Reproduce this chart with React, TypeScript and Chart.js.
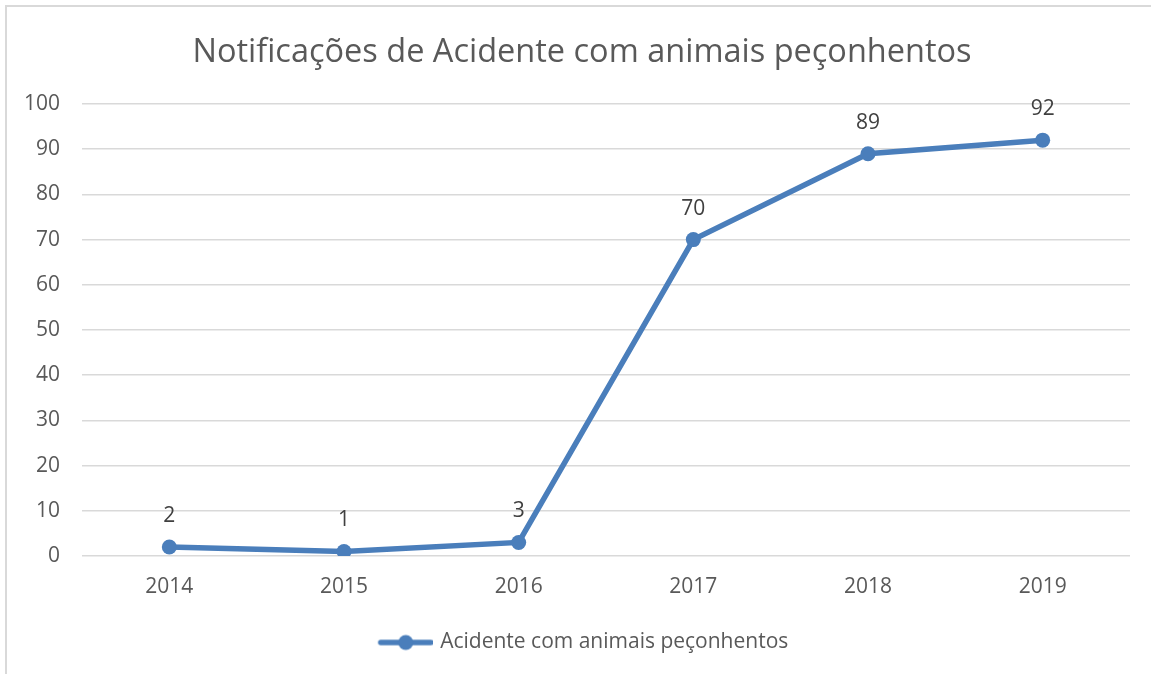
import React, { useEffect, useRef } from 'react';
import { Chart, registerables } from 'chart.js';

Chart.register(...registerables);

const chartTitle = 'Notificações de Acidente com animais peçonhentos';
const seriesName = 'Acidente com animais peçonhentos';
const years = ['2014', '2015', '2016', '2017', '2018', '2019'];
const values = [2, 1, 3, 70, 89, 92];
const yMin = 0;
const yMax = 100;
const yStep = 10;

const LINE = '#4a7ebb';
const TEXT = '#595959';
const FONT = "'Open Sans', sans-serif";

function makeLegendIcon(): HTMLCanvasElement {
  const c = document.createElement('canvas');
  c.width = 60;
  c.height = 18;
  const ctx = c.getContext('2d')!;
  ctx.strokeStyle = LINE;
  ctx.lineWidth = 5.5;
  ctx.lineCap = 'round';
  ctx.beginPath();
  ctx.moveTo(8, 9);
  ctx.lineTo(58, 9);
  ctx.stroke();
  ctx.fillStyle = LINE;
  ctx.beginPath();
  ctx.arc(33, 9, 7.5, 0, Math.PI * 2);
  ctx.fill();
  return c;
}

const dataLabels = {
  id: 'dataLabels',
  afterDatasetsDraw(chart: any) {
    const ctx = chart.ctx;
    const meta = chart.getDatasetMeta(0);
    const ds = chart.data.datasets[0];
    ctx.save();
    ctx.font = `21px ${FONT}`;
    ctx.fillStyle = '#404040';
    ctx.textAlign = 'center';
    ctx.textBaseline = 'middle';
    meta.data.forEach((pt: any, i: number) => {
      ctx.fillText(String(ds.data[i]), pt.x, pt.y - 31);
    });
    ctx.restore();
  },
};

export default function App() {
  const ref = useRef<HTMLCanvasElement>(null);
  useEffect(() => {
    const icon = makeLegendIcon();
    const chart = new Chart(ref.current!, {
      type: 'line',
      data: {
        labels: years,
        datasets: [
          {
            label: seriesName,
            data: values,
            borderColor: LINE,
            backgroundColor: LINE,
            borderWidth: 5.5,
            pointRadius: 7.5,
            pointHoverRadius: 7.5,
            pointBackgroundColor: LINE,
            pointBorderWidth: 0,
            tension: 0,
            yAxisID: 'y',
          },
        ],
      },
      options: {
        animation: false,
        responsive: false,
        layout: { padding: { left: 20, right: 7, top: 0, bottom: 11 } },
        plugins: {
          title: {
            display: true,
            text: chartTitle,
            color: TEXT,
            font: { family: FONT, size: 32.5, weight: 'normal' },
            padding: { top: 33, bottom: 32 },
          },
          legend: {
            position: 'bottom',
            labels: {
              usePointStyle: true,
              pointStyleWidth: 54,
              padding: 10,
              color: TEXT,
              font: { family: FONT, size: 21 },
              generateLabels: () => [
                {
                  text: seriesName,
                  pointStyle: icon as any,
                  fillStyle: LINE,
                  strokeStyle: LINE,
                  lineWidth: 0,
                  fontColor: TEXT,
                  hidden: false,
                  datasetIndex: 0,
                } as any,
              ],
            },
          },
          tooltip: { enabled: false },
        },
        scales: {
          x: {
            offset: true,
            grid: { display: false, drawTicks: false },
            border: { display: false },
            ticks: { color: TEXT, font: { family: FONT, size: 21 }, padding: 18 },
            afterFit: (s: any) => {
              s.height = 66;
            },
          },
          y: {
            min: yMin,
            max: yMax,
            grid: { color: '#d9d9d9', lineWidth: 1.5, drawTicks: false },
            border: { display: false },
            ticks: {
              stepSize: yStep,
              color: TEXT,
              font: { family: FONT, size: 21 },
              padding: 22,
            },
            afterFit: (s: any) => {
              s.width = 62;
            },
          },
          yRight: {
            position: 'right',
            display: true,
            min: yMin,
            max: yMax,
            grid: { display: false, drawTicks: false },
            border: { display: false },
            ticks: { display: false },
            afterFit: (s: any) => {
              s.width = 14;
            },
          },
        },
      },
      plugins: [dataLabels],
    });
    return () => chart.destroy();
  }, []);

  return (
    <div
      style={{
        position: 'fixed',
        left: 0,
        top: 0,
        width: 1151,
        height: 674,
        overflow: 'hidden',
        background: '#fff',
      }}
    >
      <div
        style={{
          position: 'absolute',
          left: 5,
          top: 5,
          width: 1200,
          height: 700,
          border: '2px solid #d9d9d9',
          boxSizing: 'border-box',
        }}
      />
      <canvas
        ref={ref}
        width={1151}
        height={674}
        style={{ position: 'absolute', left: 0, top: 0 }}
      />
    </div>
  );
}
